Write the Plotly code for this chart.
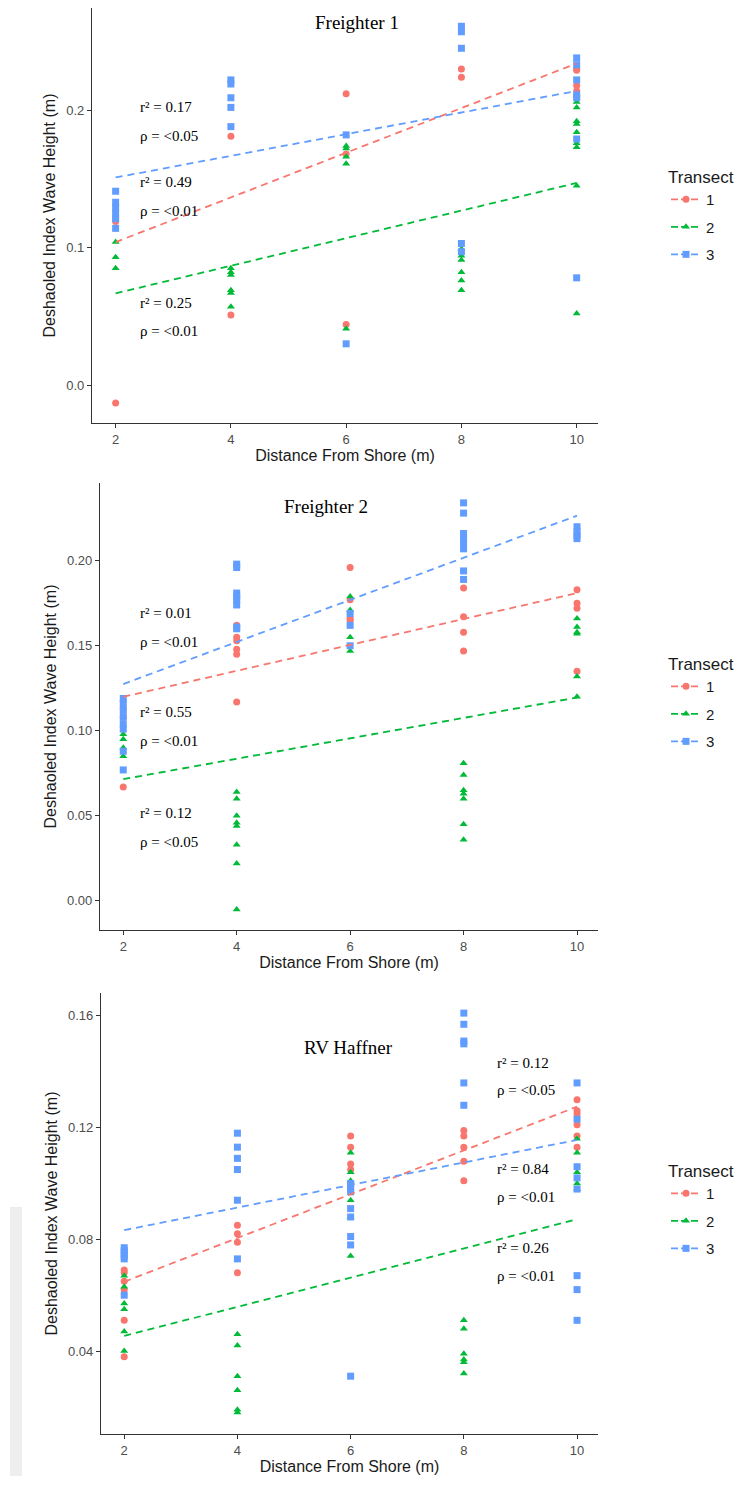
import plotly.graph_objects as go

# ---------------- data ----------------
TRANSECTS = ["1", "2", "3"]
COLORS = ["#F8766D", "#00BA38", "#619CFF"]
SYMBOLS = ["circle", "triangle-up", "square"]
FIT_X = [2, 10]

# Freighter 1
F1_T1_X = [2, 2, 2, 4, 4, 6, 6, 6, 8, 8, 10, 10, 10, 10]
F1_T1_Y = [0.121, 0.119, -0.013, 0.181, 0.051, 0.212, 0.168, 0.044, 0.230, 0.224, 0.230, 0.229, 0.218, 0.214]
F1_T2_X = [2, 2, 2, 4, 4, 4, 4, 4, 4, 6, 6, 6, 6, 6, 8, 8, 8, 8, 8, 8, 10, 10, 10, 10, 10, 10, 10, 10, 10]
F1_T2_Y = [0.104, 0.093, 0.085, 0.085, 0.082, 0.080, 0.069, 0.067, 0.057, 0.174, 0.172, 0.166, 0.161, 0.041,
           0.099, 0.094, 0.091, 0.082, 0.076, 0.069, 0.206, 0.202, 0.192, 0.190, 0.184, 0.176, 0.173, 0.145, 0.052]
F1_T3_X = [2, 2, 2, 2, 2, 2, 4, 4, 4, 4, 4, 6, 6, 8, 8, 8, 8, 8, 10, 10, 10, 10, 10, 10, 10]
F1_T3_Y = [0.141, 0.133, 0.129, 0.125, 0.121, 0.114, 0.222, 0.219, 0.209, 0.202, 0.188, 0.182, 0.030,
           0.261, 0.257, 0.245, 0.103, 0.097, 0.238, 0.233, 0.222, 0.211, 0.209, 0.179, 0.078]
F1_FIT = [[0.104, 0.234], [0.0667, 0.147], [0.151, 0.214]]
F1_STATS = [("r² = 0.17", "ρ = <0.05"), ("r² = 0.49", "ρ = <0.01"), ("r² = 0.25", "ρ = <0.01")]

# Freighter 2
F2_T1_X = [2, 2, 2, 4, 4, 4, 4, 4, 4, 6, 6, 6, 6, 8, 8, 8, 8, 10, 10, 10, 10]
F2_T1_Y = [0.113, 0.108, 0.067, 0.162, 0.155, 0.153, 0.148, 0.145, 0.117, 0.196, 0.177, 0.166, 0.165,
           0.184, 0.167, 0.158, 0.147, 0.183, 0.175, 0.172, 0.135]
F2_T2_X = [2, 2, 2, 2, 4, 4, 4, 4, 4, 4, 4, 4, 6, 6, 6, 6, 8, 8, 8, 8, 8, 8, 8, 10, 10, 10, 10, 10, 10]
F2_T2_Y = [0.098, 0.095, 0.090, 0.085, 0.064, 0.060, 0.050, 0.046, 0.044, 0.033, 0.022, -0.005,
           0.179, 0.171, 0.155, 0.147, 0.081, 0.074, 0.065, 0.063, 0.060, 0.045, 0.036,
           0.166, 0.161, 0.158, 0.157, 0.132, 0.120]
F2_T3_X = [2, 2, 2, 2, 2, 2, 2, 2, 4, 4, 4, 4, 4, 4, 4, 4, 6, 6, 6, 8, 8, 8, 8, 8, 8, 8, 8, 10, 10, 10, 10]
F2_T3_Y = [0.119, 0.116, 0.112, 0.108, 0.104, 0.101, 0.088, 0.077, 0.198, 0.196, 0.181, 0.179, 0.177, 0.174,
           0.161, 0.160, 0.169, 0.162, 0.150, 0.234, 0.228, 0.216, 0.213, 0.210, 0.207, 0.194, 0.189,
           0.220, 0.217, 0.215, 0.213]
F2_FIT = [[0.120, 0.181], [0.0716, 0.1196], [0.1275, 0.2265]]
F2_STATS = [("r² = 0.01", "ρ = <0.01"), ("r² = 0.55", "ρ = <0.01"), ("r² = 0.12", "ρ = <0.05")]

# RV Haffner
RV_T1_X = [2, 2, 2, 2, 2, 2, 4, 4, 4, 4, 6, 6, 6, 6, 6, 6, 8, 8, 8, 8, 8, 10, 10, 10, 10, 10, 10]
RV_T1_Y = [0.069, 0.068, 0.065, 0.062, 0.051, 0.038, 0.085, 0.082, 0.079, 0.068, 0.117, 0.113, 0.107, 0.105,
           0.100, 0.099, 0.119, 0.117, 0.113, 0.108, 0.101, 0.130, 0.126, 0.125, 0.121, 0.117, 0.113]
RV_T2_X = [2, 2, 2, 2, 2, 2, 4, 4, 4, 4, 4, 4, 6, 6, 6, 6, 6, 6, 8, 8, 8, 8, 8, 8, 10, 10, 10, 10, 10]
RV_T2_Y = [0.067, 0.063, 0.057, 0.055, 0.047, 0.040, 0.046, 0.042, 0.031, 0.026, 0.019, 0.018,
           0.111, 0.104, 0.101, 0.094, 0.088, 0.074, 0.051, 0.048, 0.039, 0.037, 0.036, 0.032,
           0.116, 0.111, 0.104, 0.100, 0.098]
RV_T3_X = [2, 2, 2, 2, 2, 2, 4, 4, 4, 4, 4, 4, 6, 6, 6, 6, 6, 6, 6, 6, 8, 8, 8, 8, 8, 8,
           10, 10, 10, 10, 10, 10, 10, 10]
RV_T3_Y = [0.077, 0.076, 0.075, 0.074, 0.073, 0.060, 0.118, 0.113, 0.109, 0.105, 0.094, 0.073,
           0.100, 0.098, 0.097, 0.091, 0.088, 0.081, 0.078, 0.031, 0.161, 0.157, 0.151, 0.150, 0.136, 0.128,
           0.136, 0.123, 0.106, 0.102, 0.098, 0.067, 0.062, 0.051]
RV_FIT = [[0.0648, 0.1275], [0.0454, 0.0872], [0.0833, 0.1156]]
RV_STATS = [("r² = 0.12", "ρ = <0.05"), ("r² = 0.84", "ρ = <0.01"), ("r² = 0.26", "ρ = <0.01")]

TITLES = ["Freighter 1", "Freighter 2", "RV Haffner"]
X_TICKS = [2, 4, 6, 8, 10]

# ---------------- layout geometry (pixels) ----------------
W, H = 753, 1485
def py(p):
    return 1 - p / H
def px(p):
    return p / W

panels = [
    dict(xs=[F1_T1_X, F1_T2_X, F1_T3_X], ys=[F1_T1_Y, F1_T2_Y, F1_T3_Y], fit=F1_FIT, stats=F1_STATS,
         left=92, top=8, bottom=423, yrange=[-0.0276, 0.2743], dtick=0.1, fmt=".1f", tick0=0,
         title_x=357, title_y=23, stat_x=138, stat_y=[107, 136, 182, 211, 303, 331], leg_top=161),
    dict(xs=[F2_T1_X, F2_T2_X, F2_T3_X], ys=[F2_T1_Y, F2_T2_Y, F2_T3_Y], fit=F2_FIT, stats=F2_STATS,
         left=100, top=483, bottom=930, yrange=[-0.0171, 0.2457], dtick=0.05, fmt=".2f", tick0=0,
         title_x=326, title_y=507, stat_x=138, stat_y=[613, 642, 712, 741, 813, 842], leg_top=648),
    dict(xs=[RV_T1_X, RV_T2_X, RV_T3_X], ys=[RV_T1_Y, RV_T2_Y, RV_T3_Y], fit=RV_FIT, stats=RV_STATS,
         left=101, top=993, bottom=1434, yrange=[0.0103, 0.1682], dtick=0.04, fmt=".2f", tick0=0,
         title_x=348, title_y=1047, stat_x=495, stat_y=[1063, 1090, 1169, 1197, 1248, 1276], leg_top=1155),
]
RIGHT = 598

fig = go.Figure()
layout = dict(
    width=W, height=H, margin=dict(l=0, r=0, t=0, b=0, pad=0, autoexpand=False),
    paper_bgcolor="white", plot_bgcolor="white", showlegend=True,
    font=dict(family="Liberation Sans, Arial, sans-serif", color="#000000"),
)
annotations = []
shapes = []

for i, p in enumerate(panels):
    n = "" if i == 0 else str(i + 1)
    xa, ya = "x" + n, "y" + n
    leg = "legend" + n
    for t in range(3):
        fig.add_trace(go.Scatter(
            x=p["xs"][t], y=p["ys"][t], mode="markers", xaxis=xa, yaxis=ya,
            marker=dict(color=COLORS[t], symbol=SYMBOLS[t], size=7, line=dict(width=0)),
            showlegend=False, hoverinfo="x+y"))
    for t in range(3):
        fig.add_trace(go.Scatter(
            x=FIT_X, y=p["fit"][t], mode="lines", xaxis=xa, yaxis=ya,
            line=dict(color=COLORS[t], width=1.8, dash="7px,5px"),
            showlegend=False, hoverinfo="skip"))
    for t in range(3):
        fig.add_trace(go.Scatter(
            x=[None], y=[None], mode="lines+markers", xaxis=xa, yaxis=ya,
            name=TRANSECTS[t], legend=leg, legendgroup=f"{i}-{t}",
            marker=dict(color=COLORS[t], symbol=SYMBOLS[t], size=7),
            line=dict(color=COLORS[t], width=1.8, dash="7px,3px")))

    layout["xaxis" + n] = dict(
        domain=[px(p["left"]), px(RIGHT)], range=[1.59, 10.37], anchor=ya, automargin=False,
        tickvals=X_TICKS, ticks="outside", ticklen=4, tickcolor="#333333",
        showline=True, linecolor="#333333", linewidth=1.2, showgrid=False, zeroline=False,
        tickfont=dict(size=13, color="#4d4d4d"),
        title=dict(text="Distance From Shore (m)", font=dict(size=16, color="#1a1a1a"), standoff=2))
    layout["yaxis" + n] = dict(
        domain=[py(p["bottom"]), py(p["top"])], range=p["yrange"], anchor=xa, automargin=False,
        tick0=p["tick0"], dtick=p["dtick"], tickformat=p["fmt"], ticks="outside", ticklen=4,
        tickcolor="#333333", showline=True, linecolor="#333333", linewidth=1.2,
        showgrid=False, zeroline=False, tickfont=dict(size=13, color="#4d4d4d"),
        title=dict(text="Deshaoled Index Wave Height (m)", font=dict(size=16, color="#1a1a1a"), standoff=6))
    layout[leg] = dict(
        x=px(666), y=py(p["leg_top"]), xanchor="left", yanchor="top",
        title=dict(text="Transect", font=dict(size=17, color="#1a1a1a")),
        font=dict(size=15, color="#1a1a1a"), bgcolor="rgba(0,0,0,0)",
        tracegroupgap=5, itemwidth=30)

    annotations.append(dict(
        text=TITLES[i], x=px(p["title_x"]), y=py(p["title_y"]),
        xref="paper", yref="paper", showarrow=False, xanchor="center", yanchor="middle",
        font=dict(family="Liberation Serif, Times New Roman, serif", size=19, color="#000000")))
    for k, (r2, rho) in enumerate(p["stats"]):
        for j, txt in enumerate([r2, rho]):
            annotations.append(dict(
                text=txt, x=px(p["stat_x"]), y=py(p["stat_y"][2 * k + j]),
                xref="paper", yref="paper", showarrow=False, xanchor="left", yanchor="middle",
                font=dict(family="Liberation Serif, Times New Roman, serif", size=15, color="#000000")))

shapes.append(dict(type="rect", xref="paper", yref="paper",
                   x0=px(10), x1=px(22), y0=py(1476), y1=py(1207),
                   fillcolor="#eeeeee", line=dict(width=0), layer="below"))

layout["annotations"] = annotations
layout["shapes"] = shapes
fig.update_layout(**layout)
fig.write_html(
    "out.html",
    config={"displayModeBar": False},
    post_script="document.body.style.margin='0';document.body.style.padding='0';",
)
